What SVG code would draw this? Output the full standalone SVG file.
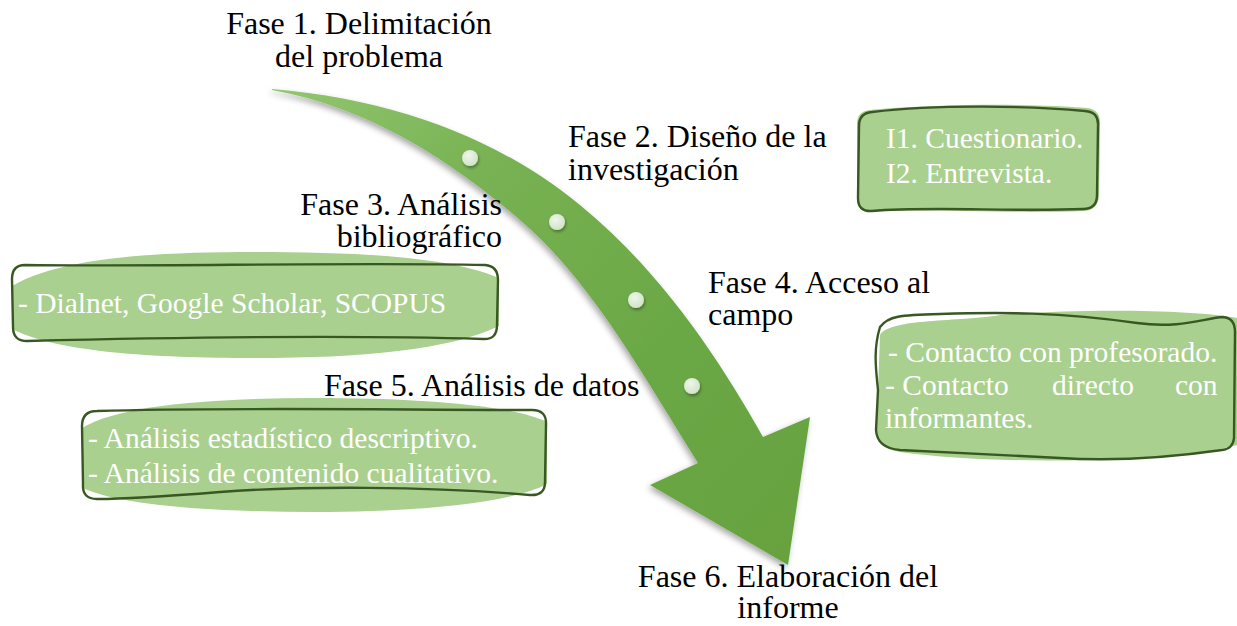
<svg xmlns="http://www.w3.org/2000/svg" width="1237" height="626" viewBox="0 0 1237 626">
<style>
.lbl{font-family:"Liberation Serif","Times New Roman",serif;font-size:32px;fill:#000}
.btx{font-family:"Liberation Serif","Times New Roman",serif;font-size:29.5px;fill:#ffffff}
.bfill{fill:#a9d08e;stroke:none}
.bline{fill:none;stroke:#385723;stroke-width:2.4;stroke-linejoin:round}
.dot{fill:url(#dotg);filter:url(#dsh)}
</style>
<defs>
<linearGradient id="arrg" gradientUnits="userSpaceOnUse" x1="272" y1="90" x2="790" y2="560">
<stop offset="0" stop-color="#92c670"/>
<stop offset="0.3" stop-color="#78b253"/>
<stop offset="0.65" stop-color="#6ba845"/>
<stop offset="1" stop-color="#66a240"/>
</linearGradient>
<radialGradient id="dotg" cx="0.4" cy="0.35" r="0.7">
<stop offset="0" stop-color="#eef6ea"/>
<stop offset="1" stop-color="#cfe3c5"/>
</radialGradient>
<filter id="ash" x="-10%" y="-10%" width="120%" height="120%">
<feDropShadow dx="-2" dy="3" stdDeviation="3" flood-color="#000" flood-opacity="0.35"/>
</filter>
<filter id="dsh" x="-50%" y="-50%" width="200%" height="200%">
<feDropShadow dx="1" dy="2" stdDeviation="1.5" flood-color="#000" flood-opacity="0.35"/>
</filter>
</defs>

<g id="arrow">
<path filter="url(#ash)" fill="url(#arrg)" d="M272,89 C400,100 500,140 580,205 C660,270 720,360 763,437 L810,417 L788,565 L650,485 L698,463 C640,370 590,280 520,220 C450,160 370,108 272,90 Z"/>
<circle class="dot" cx="470" cy="158" r="8"/>
<circle class="dot" cx="557" cy="222" r="8"/>
<circle class="dot" cx="636" cy="300" r="8"/>
<circle class="dot" cx="692" cy="386" r="8"/>
</g>

<g id="connectors"></g>

<g id="fase1">
<text class="lbl" x="359" y="34" text-anchor="middle">Fase 1. Delimitación</text>
<text class="lbl" x="359" y="67" text-anchor="middle">del problema</text>
</g>

<g id="fase2">
<text class="lbl" x="568" y="147">Fase 2. Diseño de la</text>
<text class="lbl" x="568" y="180">investigación</text>
</g>

<g id="box-instrumentos">
<path class="bfill" d="M870,110 C950,103 1040,104 1088,108 Q1101,110 1100,125 L1099,196 Q1098,210 1084,211 C1000,214 930,208 870,212 Q857,212 857,198 L857,124 Q857,111 870,110 Z"/>
<path class="bline" d="M872,112 C940,104 1030,106 1085,111 Q1099,112 1098,126 L1097,195 Q1097,209 1083,209 C1010,212 930,206 872,211 Q858,212 858,198 L859,126 Q859,113 872,112 Z"/>
<text class="btx" x="886" y="148">I1. Cuestionario.</text>
<text class="btx" x="886" y="183">I2. Entrevista.</text>
</g>

<g id="fase3">
<text class="lbl" x="502" y="215" text-anchor="end">Fase 3. Análisis</text>
<text class="lbl" x="502" y="247" text-anchor="end">bibliográfico</text>
</g>

<g id="box-bases">
<path class="bfill" d="M12,286 C60,258 150,252 255,252 C360,252 450,257 499,278 L499,326 C450,350 360,358 255,358 C150,358 60,352 14,330 Z"/>
<path class="bline" d="M25,265 C150,267 350,262 485,265 Q498,266 498,280 L497,325 Q497,340 483,339 C350,335 150,338 27,341 Q13,341 13,327 L12,279 Q12,265 25,265 Z"/>
<text class="btx" x="18" y="313">- Dialnet, Google Scholar, SCOPUS</text>
</g>

<g id="fase4">
<text class="lbl" x="708" y="293">Fase 4. Acceso al</text>
<text class="lbl" x="708" y="325">campo</text>
</g>

<g id="box-acceso">
<path class="bfill" d="M880,335 C890,318 960,322 1000,315 C1080,308 1200,310 1237,318 L1237,445 C1180,462 1000,466 900,452 C878,448 876,440 877,420 Z"/>
<path class="bline" d="M880,327 C888,316 900,315 940,314 C1000,312 1060,312 1137,323 C1180,329 1205,318 1223,317 Q1235,318 1235,332 L1234,438 Q1233,449 1222,450 C1180,456 1120,462 1060,458 C1000,455 940,452 900,450 Q877,448 876,430 L878,390 C876,370 873,350 880,327 Z"/>
<text class="btx" x="888" y="362">- Contacto con profesorado.</text>
<text class="btx" y="395"><tspan x="885">- Contacto</tspan><tspan x="1052">directo</tspan><tspan x="1175">con</tspan></text>
<text class="btx" x="885" y="428">informantes.</text>
</g>

<g id="fase5">
<text class="lbl" x="324" y="396">Fase 5. Análisis de datos</text>
</g>

<g id="box-analisis">
<path class="bfill" d="M82,428 C120,404 220,398 315,398 C410,398 510,404 547,422 L547,484 C510,504 410,512 315,512 C220,512 120,506 83,488 Z"/>
<path class="bline" d="M97,411 C220,407 400,410 532,410 Q547,410 546,425 L545,482 Q545,496 530,495 C430,486 300,486 220,492 C170,496 130,499 97,499 Q82,499 83,484 L82,426 Q82,411 97,411 Z"/>
<text class="btx" x="88" y="448">- Análisis estadístico descriptivo.</text>
<text class="btx" x="88" y="483">- Análisis de contenido cualitativo.</text>
</g>

<g id="fase6">
<text class="lbl" x="788" y="587" text-anchor="middle">Fase 6. Elaboración del</text>
<text class="lbl" x="788" y="618" text-anchor="middle">informe</text>
</g>
</svg>
